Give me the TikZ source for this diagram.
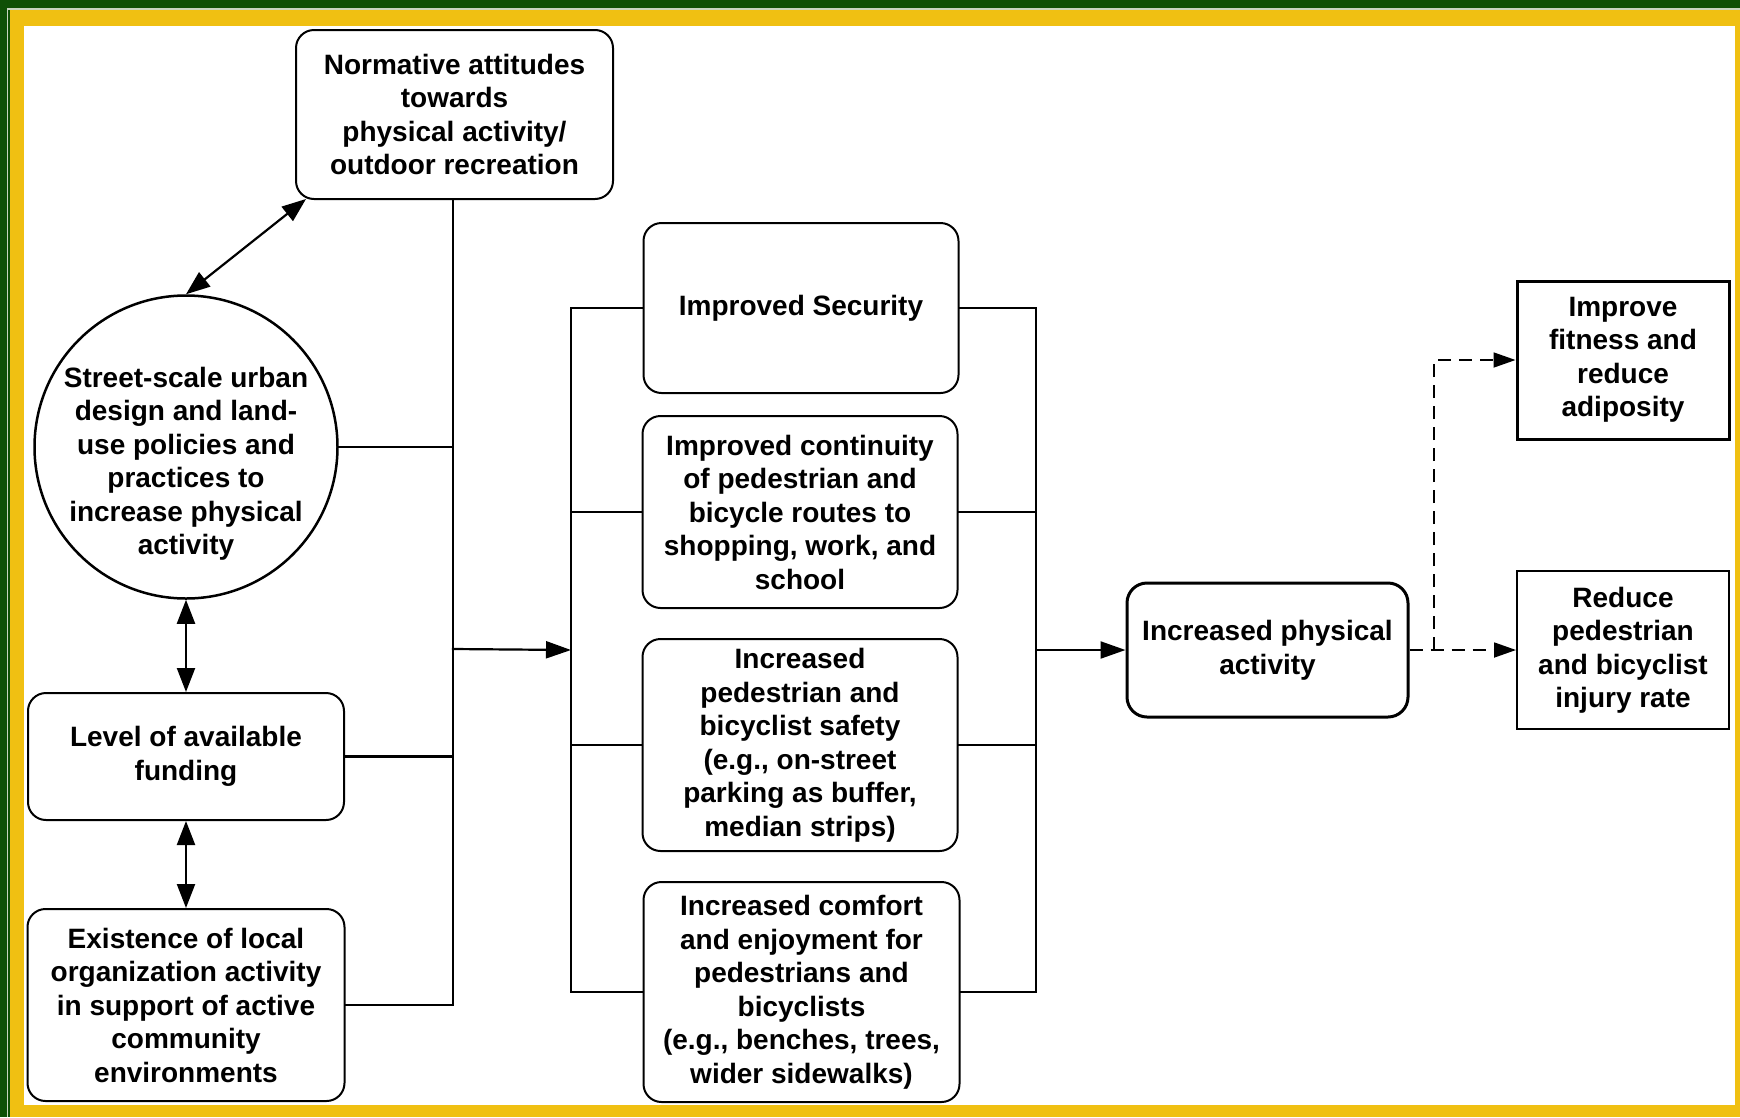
\documentclass[tikz,border=0pt]{standalone}
\usepackage{fontspec}
\setmainfont{Liberation Sans}
\usetikzlibrary{arrows.meta}
\definecolor{framegreen}{HTML}{0F5006}
\definecolor{frameyellow}{HTML}{F0C012}
\definecolor{frameline}{HTML}{C8D4C0}
\tikzset{
  txt/.style={font=\bfseries\fontsize{28}{33.5}\selectfont, align=center, inner sep=0pt, text=black},
  rbox/.style={txt, draw, line width=2pt, rounded corners=18pt, fill=white},
  thickrbox/.style={txt, draw, line width=3pt, rounded corners=20pt, fill=white},
  sbox/.style={txt, draw, line width=2pt, fill=white},
  thicksbox/.style={txt, draw, line width=3pt, fill=white},
  circbox/.style={draw, circle, line width=2.5pt, minimum size=303pt, inner sep=0pt, fill=white},
  conn/.style={line width=2.2pt, line cap=rect},
  bigtip/.style={-{Triangle[length=25pt,width=17pt]}},
  dbltip/.style={{Triangle[length=24pt,width=18pt]}-{Triangle[length=24pt,width=18pt]}},
  dashtip/.style={-{Triangle[length=22pt,width=15pt]}, dash pattern=on 13pt off 8pt},
}
\begin{document}
\begin{tikzpicture}[x=1pt,y=-1pt]
\useasboundingbox (0,0) rectangle (1740,1117);
% frame
\fill[framegreen] (0,0) rectangle (1740,1117);
\fill[frameline] (7,8) rectangle (1740,1117);
\fill[framegreen] (8,9.5) rectangle (1740,1117);
\fill[frameyellow] (10,10) rectangle (1740,1117);
\fill[white] (24,26) rectangle (1735,1105);

% left column
\node[rbox, minimum width=317pt, minimum height=169pt] (norm) at (454.5,114.5)
  {Normative attitudes\\towards\\physical activity/\\outdoor recreation};
\node[circbox] (circ) at (186,447) {};
\node[txt] (circtxt) at (186,464)
  {Street-scale urban\\design and land-\\use policies and\\practices to\\increase physical\\activity};
\node[rbox, minimum width=316pt, minimum height=127pt] (fund) at (186,756.5)
  {Level of available\\funding};
\node[rbox, minimum width=317pt, minimum height=192pt] (exist) at (186,1005)
  {Existence of local\\organization activity\\in support of active\\community\\environments};

% middle column
\node[rbox, minimum width=315pt, minimum height=170pt] (sec) at (801,308)
  {Improved Security};
\node[rbox, minimum width=315pt, minimum height=192pt] (cont) at (800,512)
  {Improved continuity\\of pedestrian and\\bicycle routes to\\shopping, work, and\\school};
\node[rbox, minimum width=315pt, minimum height=212pt] (safe) at (800,745)
  {Increased\\pedestrian and\\bicyclist safety\\(e.g., on-street\\parking as buffer,\\median strips)};
\node[rbox, minimum width=316pt, minimum height=220pt] (comf) at (801.5,992)
  {Increased comfort\\and enjoyment for\\pedestrians and\\bicyclists\\(e.g., benches, trees,\\wider sidewalks)};

% right column
\node[thickrbox, minimum width=281pt, minimum height=134pt] (ipa) at (1267.5,650)
  {Increased physical\\activity};
\node[thicksbox, minimum width=212pt, minimum height=158pt] (fit) at (1623,360)
  {Improve\\fitness and\\reduce\\adiposity};
\node[sbox, minimum width=212pt, minimum height=158pt] (red) at (1623,650)
  {Reduce\\pedestrian\\and bicyclist\\injury rate};

% bus coordinates
\coordinate (bLbot) at (453,1005);
\coordinate (bLmid) at (453,649);
\coordinate (mL) at (571,650);
\coordinate (mR) at (1036,650);
\coordinate (split) at (1434,650);

% left bus
\draw[conn] (norm.south -| bLbot) -- (bLbot);
\draw[conn] (circ.east) -- (circ.east -| bLbot);
\draw[conn] (fund.east) -- (fund.east -| bLbot);
\draw[conn] (exist.east) -- (bLbot);
\draw[conn, bigtip] (bLmid) -- (mL);

% middle left bus
\draw[conn] (sec.west) -- (sec.west -| mL) -- (comf.west -| mL) -- (comf.west);
\draw[conn] (cont.west) -- (cont.west -| mL);
\draw[conn] (safe.west) -- (safe.west -| mL);

% middle right bus
\draw[conn] (sec.east) -- (sec.east -| mR) -- (comf.east -| mR) -- (comf.east);
\draw[conn] (cont.east) -- (cont.east -| mR);
\draw[conn] (safe.east) -- (safe.east -| mR);
\draw[conn, bigtip] (mR) -- (ipa.west);

% double arrows
\draw[line width=2.2pt, dbltip] (circ.north) -- ([xshift=11pt,yshift=1pt]norm.south west);
\draw[line width=2.2pt, dbltip] (circ.south) -- (fund.north);
\draw[line width=2.2pt, dbltip] (fund.south) -- (exist.north);

% dashed outcomes
\draw[line width=1.8pt, dashtip] (ipa.east) -- (red.west);
\draw[line width=1.8pt, dashtip] (split) |- (fit.west);
\end{tikzpicture}
\end{document}
